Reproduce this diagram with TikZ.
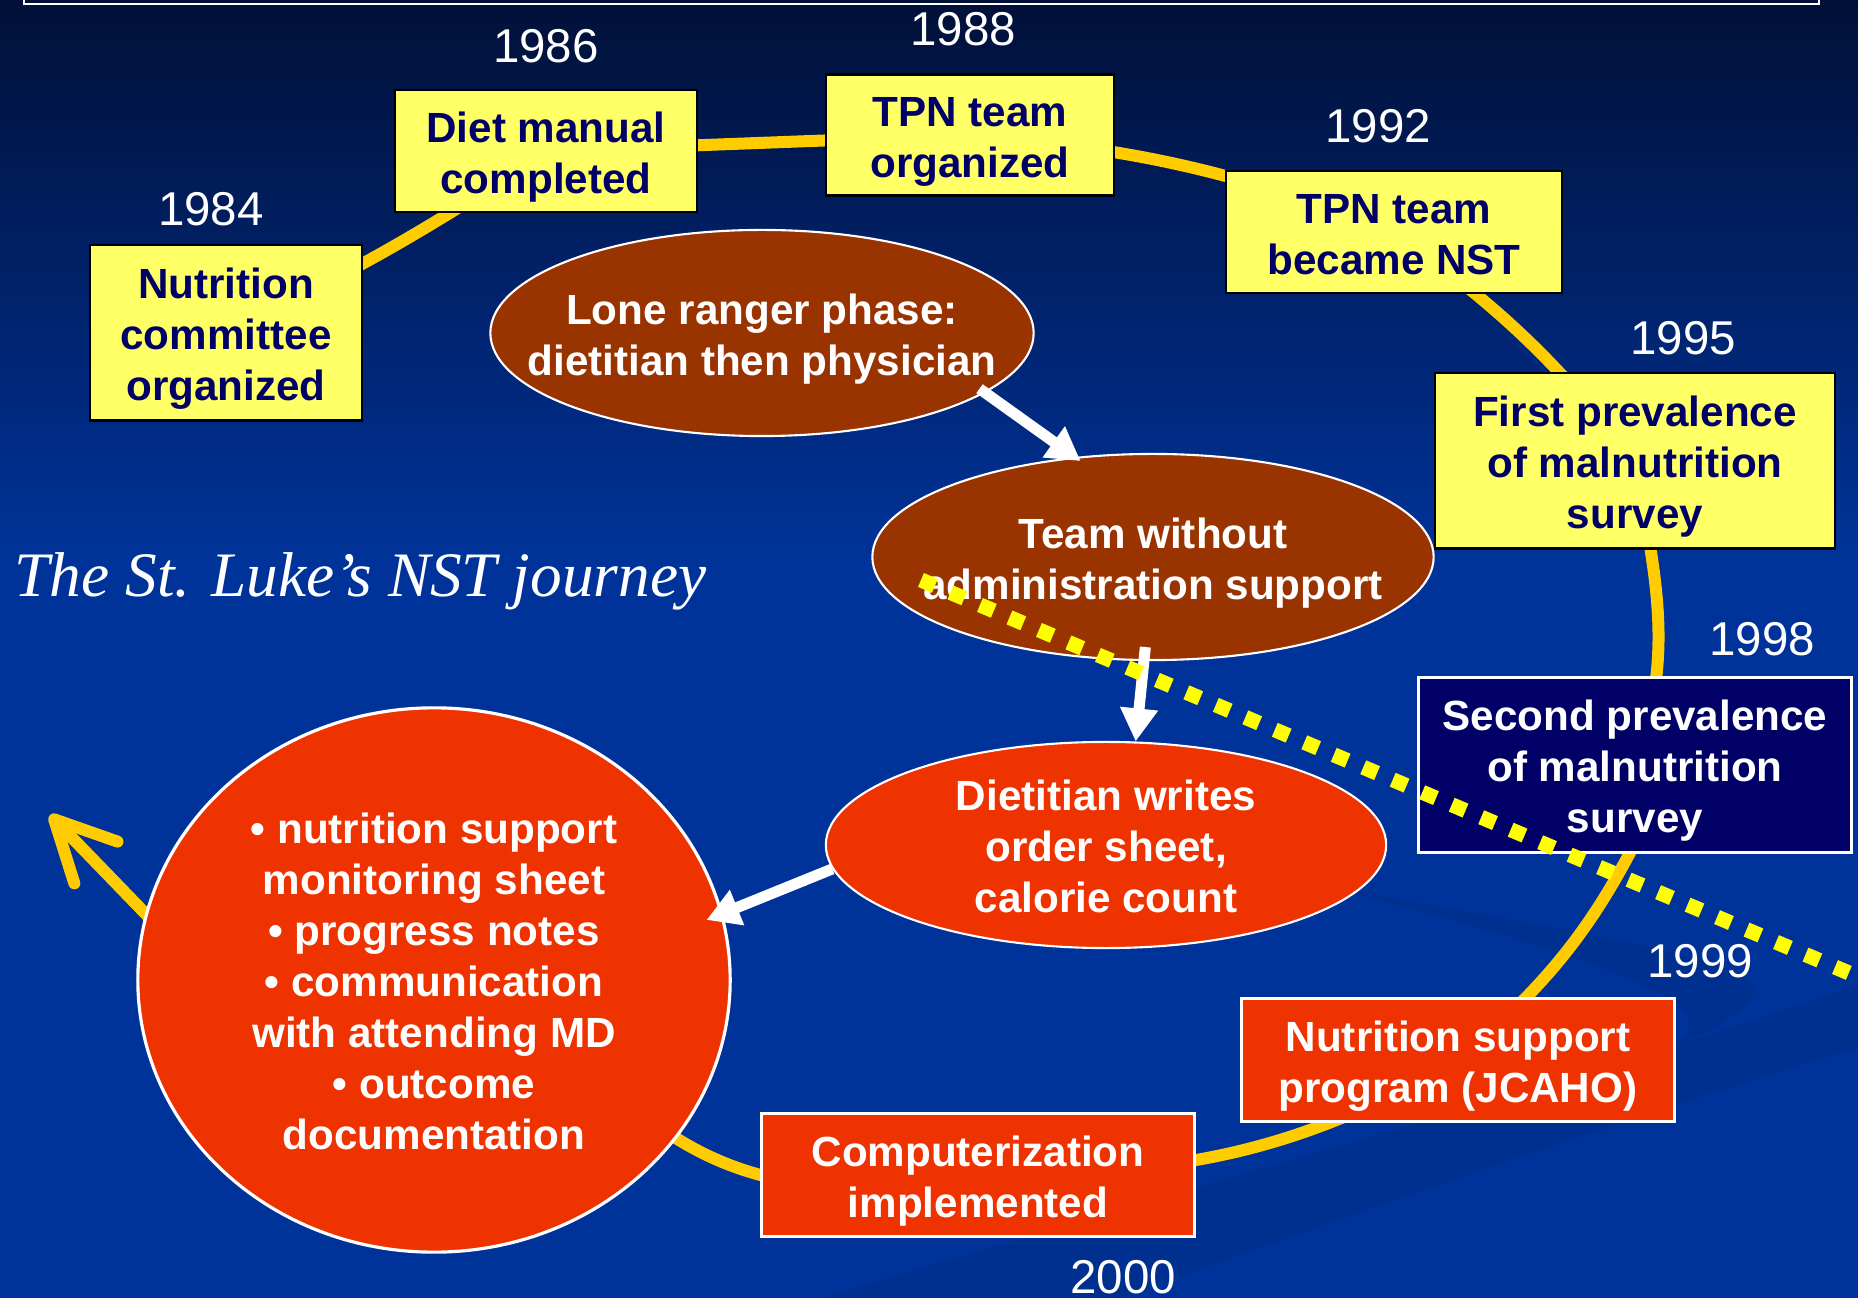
\documentclass[tikz,border=0pt]{standalone}
\usepackage{fontspec}
\setmainfont{Liberation Sans}
\newfontfamily\journeyfont{Liberation Serif}
\usetikzlibrary{arrows.meta,shapes.geometric,backgrounds}
\tikzset{>={Triangle[length=3.3mm,width=3.6mm]}}
\definecolor{bgtop}{HTML}{011038}
\definecolor{bgmid}{HTML}{003399}
\definecolor{swoosh}{HTML}{00308F}
\definecolor{boxyellow}{HTML}{FFFF66}
\definecolor{inknavy}{HTML}{000066}
\definecolor{phasebrown}{HTML}{993300}
\definecolor{stepred}{HTML}{EE3300}
\definecolor{trackgold}{HTML}{FFCC00}
\definecolor{dotyellow}{HTML}{FFFF00}
% centred lines of a box, set a little low as on the slide
\newcommand{\stacked}[1]{\raisebox{-1.8pt}[\height][\depth]{\begin{tabular}{@{}c@{}}#1\end{tabular}}}

\begin{document}
\begin{tikzpicture}[x=0.01cm, y=0.01cm,
		yellowbox/.style={rectangle, draw=black, line width=0.6pt, fill=boxyellow, text=inknavy, font=\bfseries\fontsize{12}{14.5}\selectfont, inner sep=0pt},
		navybox/.style={yellowbox, draw=white, line width=0.8pt, fill=inknavy, text=white},
		redbox/.style={navybox, fill=stepred},
		phase/.style={ellipse, draw=white, line width=0.6pt, fill=phasebrown, inner sep=0pt},
		stage/.style={phase, fill=stepred},
		phasetext/.style={text=white, font=\bfseries\fontsize{12}{14.5}\selectfont, inner sep=0pt},
		year/.style={text=white, font=\fontsize{13.5}{16}\selectfont, inner sep=0pt},
		track/.style={trackgold, line width=0.12cm},
		flow/.style={white, line width=0.11cm, ->}]
		\useasboundingbox (0,0) rectangle (1858,-1298);
		
		\node[yellowbox, minimum width=2.72cm, minimum height=1.75cm] (nutr) at (226,-333) {\stacked{Nutrition\\committee\\organized}};
		\node[yellowbox, minimum width=3.02cm, minimum height=1.22cm] (diet) at (546,-151) {\stacked{Diet manual\\completed}};
		\node[yellowbox, minimum width=2.87cm, minimum height=1.21cm] (tpnorg) at (970,-135) {\stacked{TPN team\\organized}};
		\node[yellowbox, minimum width=3.36cm, minimum height=1.22cm] (tpnnst) at (1394,-232) {\stacked{TPN team\\became NST}};
		\node[yellowbox, minimum width=3.99cm, minimum height=1.75cm] (prev1) at (1635,-461) {\stacked{First prevalence\\of malnutrition\\survey}};
		\node[navybox, minimum width=4.33cm, minimum height=1.75cm] (prev2) at (1635,-765) {\stacked{Second prevalence\\of malnutrition\\survey}};
		\node[redbox, minimum width=4.33cm, minimum height=1.23cm] (jcaho) at (1458,-1060) {\stacked{Nutrition support\\program (JCAHO)}};
		\node[redbox, minimum width=4.32cm, minimum height=1.23cm] (comp) at (978,-1175) {\stacked{Computerization\\implemented}};
		
		\node[year] (y1984) at (211,-209) {1984};
		\node[year] (y1986) at (546,-46) {1986};
		\node[year] (y1988) at (963,-29) {1988};
		\node[year] (y1992) at (1378,-126) {1992};
		\node[year] (y1995) at (1683,-338) {1995};
		\node[year] (y1998) at (1762,-639) {1998};
		\node[year] (y1999) at (1700,-961) {1999};
		\node[year] (y2000) at (1123,-1277) {2000};
		
		\node[phase, minimum width=5.43cm, minimum height=2.06cm, label={[phasetext]center:{\stacked{Lone ranger phase:\\dietitian then physician}}}] (lone) at (762,-333) {};
		\node[phase, minimum width=5.61cm, minimum height=2.06cm, label={[phasetext]center:{\stacked{Team without\\administration support}}}] (team) at (1153,-557) {};
		\node[stage, minimum width=5.6cm, minimum height=2.06cm, label={[phasetext]center:{\stacked{Dietitian writes\\order sheet,\\calorie count}}}] (writes) at (1106,-845) {};
		\node[stage, line width=0.9pt, minimum width=5.92cm, minimum height=5.44cm, label={[phasetext]center:{\stacked{\textbullet{} nutrition support\\monitoring sheet\\\textbullet{} progress notes\\\textbullet{} communication\\with attending MD\\\textbullet{} outcome\\documentation}}}] (tasks) at (434,-980) {};
		
		\node[text=white, font=\journeyfont\itshape\fontsize{18}{22}\selectfont, anchor=base west, inner sep=0pt] (title) at (14,-597) {The St. Luke’s NST journey};
		
		\coordinate (tipc) at (50,-815);
		\coordinate (dotstart) at (921,-580);
		\coordinate (dotend) at (1875,-984);
		
		\begin{scope}[on background layer]
			\fill[bgmid] (0,0) rectangle (1858,-1298);
			\shade[top color=bgtop, bottom color=bgmid] (0,0) rectangle (1858,-560);
			\fill[swoosh] (1858,-985) .. controls (1600,-1075) and (1250,-1170) .. (820,-1298) -- (1120,-1298) .. controls (1420,-1190) and (1650,-1110) .. (1858,-1048) -- cycle;
			\fill[swoosh] (1300,-880) .. controls (1550,-930) and (1790,-960) .. (1750,-1000) .. controls (1720,-1030) and (1690,-1040) .. (1670,-1045) .. controls (1720,-1020) and (1700,-980) .. (1300,-880) -- cycle;
			\draw[white, line width=0.8pt] (24,10) |- (1819,-4) -- (1819,10);
			
			\draw[track] (nutr.center) to[bend right=4] (diet.center) -- (tpnorg.center) to[bend left=8] (tpnnst.center) to[bend left=8] (prev1.center) to[out=-80,in=70] (prev2.center) -- ([shift={(21,-35)}]prev2.center) to[out=-115,in=40] (jcaho.center) to[out=-150,in=0] (comp.center) -- (comp.west) to[out=165,in=-15] (tasks.center);
			\draw[track, -{Straight Barb[length=6mm,width=6mm,round]}] ([shift={(28,-29)}]tasks.167) -- (tipc);
		\end{scope}
		
		\path (lone.-15) edge[flow, shorten <=-2pt, shorten >=-2pt] (team.128);
		\path (team.-95) edge[flow, shorten <=-4pt] (writes.74);
		\path (writes.185) edge[flow, shorten >=-5pt] (tasks.13);
		
		\draw[dotyellow, line width=0.15cm, dash pattern=on 0.15cm off 0.17cm] (dotstart) -- (dotend);
		
	\end{tikzpicture}
\end{document}
